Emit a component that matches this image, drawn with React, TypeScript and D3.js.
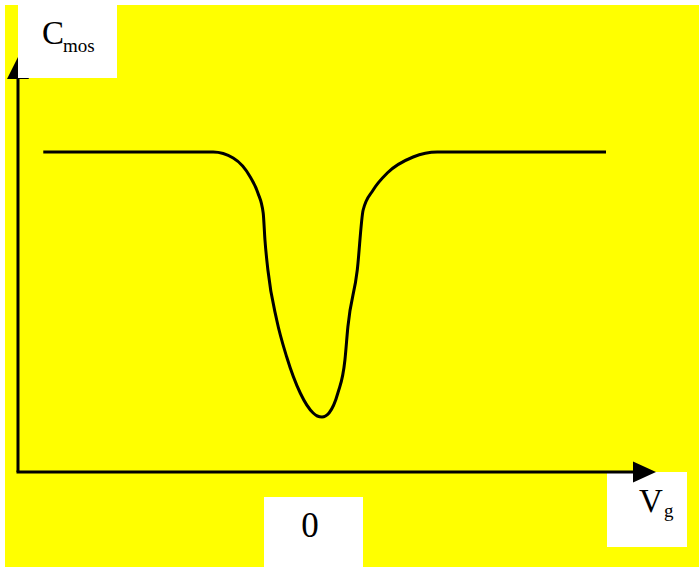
import React from "react";
import * as d3 from "d3";

// Gate voltage (arbitrary units) and MOS capacitance (normalized)
const vg = [-4.57, -1.68, -1.34, -1.05, -0.92, -0.83, -0.8, -0.75, -0.6, -0.43, -0.2, 0.02, 0.09, 0.17, 0.23, 0.29, 0.44, 0.56, 0.61, 0.77, 0.87, 1.04, 1.28, 1.72, 2.13, 5.0];
const cmos = [0.8, 0.8, 0.785, 0.7375, 0.6975, 0.6475, 0.58, 0.505, 0.38, 0.2875, 0.1975, 0.1475, 0.14, 0.1375, 0.14, 0.1475, 0.1975, 0.28, 0.3625, 0.505, 0.655, 0.705, 0.7475, 0.7875, 0.8, 0.8];
const xTickLabels = ["0"];
const xTickValues = [0];

const W = 699;
const H = 567;

export default function App() {
  const x = d3.scaleLinear().domain([-5, 5]).range([18, 606]);
  const y = d3.scaleLinear().domain([0, 1]).range([472, 72]);
  const pts: [number, number][] = vg.map((v, i) => [v, cmos[i]]);
  const line = d3
    .line<[number, number]>()
    .x((d) => x(d[0]))
    .y((d) => y(d[1]))
    .curve(d3.curveMonotoneX);

  const x0 = x(-5);
  const y0 = y(0);
  const font = "'Liberation Serif', 'Times New Roman', serif";

  return (
    <svg
      width={W}
      height={H}
      style={{ position: "absolute", left: 0, top: 0, display: "block" }}
    >
      <rect x={0} y={0} width={W} height={H} fill="#ffffff" />
      <rect x={5} y={5} width={W - 5} height={H - 5} fill="#ffff00" />

      {/* y axis */}
      <line x1={x0} y1={y0} x2={x0} y2={79} stroke="#000" strokeWidth={3} />
      <path d={`M${x0},57 L${x0 - 11},79 L${x0 + 11},79 Z`} fill="#000" />

      {/* C_mos label box */}
      <rect x={18} y={5} width={99} height={73} fill="#ffffff" />
      <text x={42} y={44} fontFamily={font} fontSize={33} fill="#000">
        C
        <tspan x={63} y={52} fontSize={19}>mos</tspan>
      </text>

      {/* x tick label box */}
      <rect x={264} y={497} width={99} height={70} fill="#ffffff" />
      {xTickValues.map((v, i) => (
        <text
          key={i}
          x={x(v) - 2}
          y={537}
          textAnchor="middle"
          fontFamily={font}
          fontSize={35}
          fill="#000"
        >
          {xTickLabels[i]}
        </text>
      ))}

      {/* V_g label box */}
      <rect x={607} y={472} width={80} height={75} fill="#ffffff" />
      <text x={639} y={512} fontFamily={font} fontSize={33} fill="#000">
        V
        <tspan x={664} y={517} fontSize={19}>g</tspan>
      </text>

      {/* x axis */}
      <line x1={x0 - 1.5} y1={y0} x2={634} y2={y0} stroke="#000" strokeWidth={3} />
      <path d={`M656,${y0} L633,${y0 - 10.5} L633,${y0 + 10.5} Z`} fill="#000" />

      {/* curve */}
      <path d={line(pts) || ""} fill="none" stroke="#000" strokeWidth={3} />
    </svg>
  );
}
